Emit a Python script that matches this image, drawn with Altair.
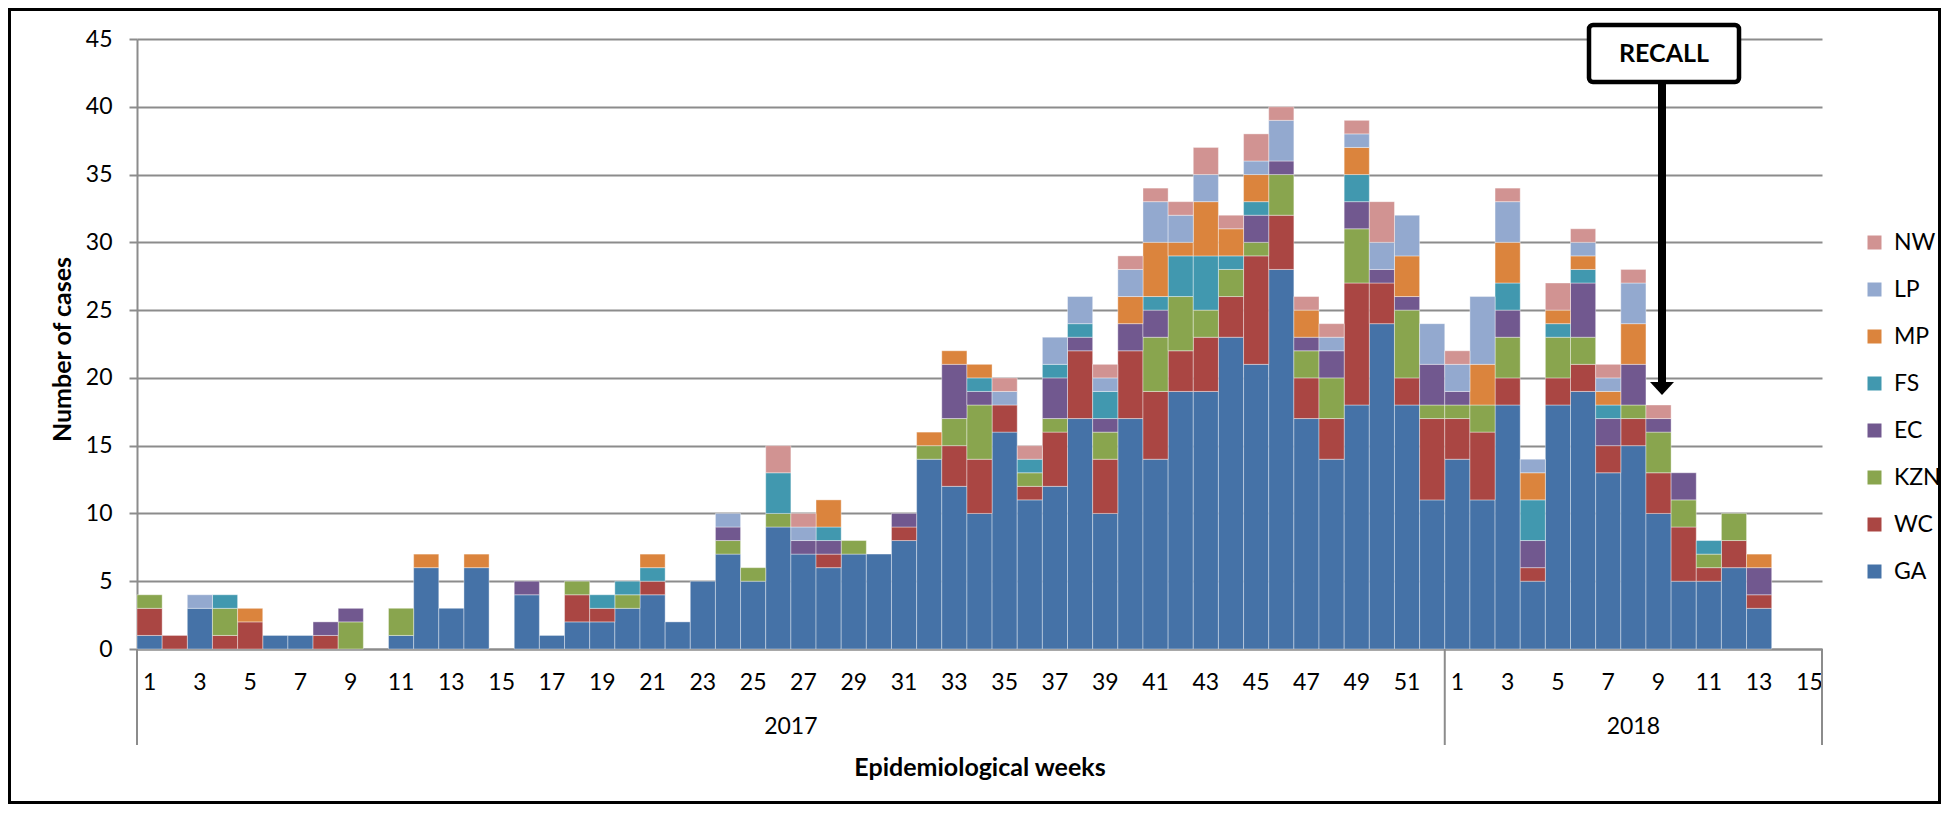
import altair as alt
import pandas as pd

# ---------------- data ----------------
weeks_2017 = list(range(1, 53))
weeks_2018 = list(range(1, 16))
keys = [f"2017-{w:02d}" for w in weeks_2017] + [f"2018-{w:02d}" for w in weeks_2018]
odd_keys = [k for k in keys if int(k[5:]) % 2 == 1]

stack_order = ["GA", "WC", "KZN", "EC", "FS", "MP", "LP", "NW"]      # bottom -> top
legend_order = ["NW", "LP", "MP", "FS", "EC", "KZN", "WC", "GA"]
legend_colors = ["#D19392", "#93A9CF", "#DB843D", "#4198AF", "#71588F", "#89A54E", "#AA4643", "#4572A7"]

GA = [1, 0, 3, 0, 0, 1, 1, 0, 0, 0, 1, 6, 3, 6, 0, 4, 1, 2, 2, 3, 4, 2, 5, 7, 5, 9, 7, 6, 7, 7,
      8, 14, 12, 10, 16, 11, 12, 17, 10, 17, 14, 19, 19, 23, 21, 28, 17, 14, 18, 24, 18, 11,
      14, 11, 18, 5, 18, 19, 13, 15, 10, 5, 5, 6, 3, 0, 0]
WC = [2, 1, 0, 1, 2, 0, 0, 1, 0, 0, 0, 0, 0, 0, 0, 0, 0, 2, 1, 0, 1, 0, 0, 0, 0, 0, 0, 1, 0, 0,
      1, 0, 3, 4, 2, 1, 4, 5, 4, 5, 5, 3, 4, 3, 8, 4, 3, 3, 9, 3, 2, 6,
      3, 5, 2, 1, 2, 2, 2, 2, 3, 4, 1, 2, 1, 0, 0]
KZN = [1, 0, 0, 2, 0, 0, 0, 0, 2, 0, 2, 0, 0, 0, 0, 0, 0, 1, 0, 1, 0, 0, 0, 1, 1, 1, 0, 0, 1, 0,
       0, 1, 2, 4, 0, 1, 1, 0, 2, 0, 4, 4, 2, 2, 1, 3, 2, 3, 4, 0, 5, 1,
       1, 2, 3, 0, 3, 2, 0, 1, 3, 2, 1, 2, 0, 0, 0]
EC = [0, 0, 0, 0, 0, 0, 0, 1, 1, 0, 0, 0, 0, 0, 0, 1, 0, 0, 0, 0, 0, 0, 0, 1, 0, 0, 1, 1, 0, 0,
      1, 0, 4, 1, 0, 0, 3, 1, 1, 2, 2, 0, 0, 0, 2, 1, 1, 2, 2, 1, 1, 3,
      1, 0, 2, 2, 0, 4, 2, 3, 1, 2, 0, 0, 2, 0, 0]
FS = [0, 0, 0, 1, 0, 0, 0, 0, 0, 0, 0, 0, 0, 0, 0, 0, 0, 0, 1, 1, 1, 0, 0, 0, 0, 3, 0, 1, 0, 0,
      0, 0, 0, 1, 0, 1, 1, 1, 2, 0, 1, 3, 4, 1, 1, 0, 0, 0, 2, 0, 0, 0,
      0, 0, 2, 3, 1, 1, 1, 0, 0, 0, 1, 0, 0, 0, 0]
MP = [0, 0, 0, 0, 1, 0, 0, 0, 0, 0, 0, 1, 0, 1, 0, 0, 0, 0, 0, 0, 1, 0, 0, 0, 0, 0, 0, 2, 0, 0,
      0, 1, 1, 1, 0, 0, 0, 0, 0, 2, 4, 1, 4, 2, 2, 0, 2, 0, 2, 0, 3, 0,
      0, 3, 3, 2, 1, 1, 1, 3, 0, 0, 0, 0, 1, 0, 0]
LP = [0, 0, 1, 0, 0, 0, 0, 0, 0, 0, 0, 0, 0, 0, 0, 0, 0, 0, 0, 0, 0, 0, 0, 1, 0, 0, 1, 0, 0, 0,
      0, 0, 0, 0, 1, 0, 2, 2, 1, 2, 3, 2, 2, 0, 1, 3, 0, 1, 1, 2, 3, 3,
      2, 5, 3, 1, 0, 1, 1, 3, 0, 0, 0, 0, 0, 0, 0]
NW = [0, 0, 0, 0, 0, 0, 0, 0, 0, 0, 0, 0, 0, 0, 0, 0, 0, 0, 0, 0, 0, 0, 0, 0, 0, 2, 1, 0, 0, 0,
      0, 0, 0, 0, 1, 1, 0, 0, 1, 1, 1, 1, 2, 1, 2, 1, 1, 1, 1, 3, 0, 0,
      1, 0, 1, 0, 2, 1, 1, 1, 1, 0, 0, 0, 0, 0, 0]

series = {"GA": GA, "WC": WC, "KZN": KZN, "EC": EC, "FS": FS, "MP": MP, "LP": LP, "NW": NW}

rows = []
for idx, prov in enumerate(stack_order):
    for k, v in zip(keys, series[prov]):
        if v > 0:
            rows.append({"key": k, "province": prov, "cases": v, "stackpos": idx})
df = pd.DataFrame(rows)

FONT = "Lato"
GRID = "#8c8c8c"

x_scale = alt.Scale(domain=keys, paddingInner=0, paddingOuter=0)

# ---------------- bars ----------------
bars = alt.Chart(df).mark_bar(stroke="white", strokeWidth=0.7, strokeOpacity=0.55).encode(
    x=alt.X(
        "key:N",
        scale=x_scale,
        axis=alt.Axis(
            title="Epidemiological weeks",
            titleFont=FONT, titleFontSize=25, titleFontWeight="bold", titleColor="black",
            titleY=118, titleBaseline="middle",
            values=odd_keys,
            labelExpr="toString(toNumber(slice(datum.value, 5)))",
            labelAngle=0, labelFont=FONT, labelFontSize=23, labelColor="black",
            labelBaseline="middle", labelPadding=33, labelOverlap=False, labelFlush=False,
            ticks=False, tickSize=0, domainColor=GRID, domainWidth=2, grid=False,
        ),
    ),
    y=alt.Y(
        "cases:Q",
        stack="zero",
        scale=alt.Scale(domain=[0, 45], nice=False),
        axis=alt.Axis(
            title="Number of cases",
            titleFont=FONT, titleFontSize=25, titleFontWeight="bold", titleColor="black",
            titleAngle=270, titleX=-75, titleY=310, titleAlign="center", titleBaseline="middle",
            values=list(range(0, 50, 5)),
            labelFont=FONT, labelFontSize=23, labelColor="black", labelPadding=17,
            tickSize=8, tickColor=GRID, tickWidth=2,
            domainColor=GRID, domainWidth=2,
            grid=True, gridColor=GRID, gridWidth=2,
        ),
    ),
    color=alt.Color(
        "province:N",
        scale=alt.Scale(domain=legend_order, range=legend_colors),
        legend=alt.Legend(
            title=None, orient="none", legendX=1726, legendY=192,
            symbolType="square", symbolSize=196, symbolStrokeWidth=0,
            labelFont=FONT, labelFontSize=23, labelColor="black", labelOffset=8,
            rowPadding=23, padding=0,
        ),
    ),
    order=alt.Order("stackpos:Q", sort="ascending"),
)

# ---------------- year group labels and separators ----------------
sep_left = alt.Chart(pd.DataFrame({"key": ["2017-01", "2018-01"]})).mark_rule(
    color=GRID, strokeWidth=2).encode(
    x=alt.X("key:N", bandPosition=0),
    y=alt.value(610), y2=alt.value(706),
)
sep_right = alt.Chart(pd.DataFrame({"key": ["2018-15"]})).mark_rule(
    color=GRID, strokeWidth=2).encode(
    x=alt.X("key:N", bandPosition=1),
    y=alt.value(610), y2=alt.value(706),
)
year17 = alt.Chart(pd.DataFrame({"key": ["2017-27"], "year": ["2017"]})).mark_text(
    font=FONT, fontSize=23, color="black", baseline="middle", align="center").encode(
    x=alt.X("key:N", bandPosition=0), y=alt.value(688), text="year:N",
)
year18 = alt.Chart(pd.DataFrame({"key": ["2018-08"], "year": ["2018"]})).mark_text(
    font=FONT, fontSize=23, color="black", baseline="middle", align="center").encode(
    x=alt.X("key:N", bandPosition=0.5), y=alt.value(688), text="year:N",
)

# ---------------- RECALL annotation ----------------
ann = pd.DataFrame({"label": ["RECALL"]})
shaft = alt.Chart(ann).mark_rule(color="black", strokeWidth=8).encode(
    x=alt.value(1525), y=alt.value(43), y2=alt.value(344),
)
head = alt.Chart(ann).mark_point(
    shape="M-1,-0.54L1,-0.54L0,0.54Z", filled=True, color="black", opacity=1, size=576
).encode(x=alt.value(1525), y=alt.value(349.5))
box = alt.Chart(ann).mark_rect(
    fill="white", stroke="black", strokeWidth=4.5, cornerRadius=4
).encode(x=alt.value(1452), x2=alt.value(1602), y=alt.value(-14), y2=alt.value(43))
box_text = alt.Chart(ann).mark_text(
    font=FONT, fontSize=25, fontWeight="bold", color="black", align="center", baseline="middle"
).encode(x=alt.value(1527), y=alt.value(15), text="label:N")

# ---------------- outer frame ----------------
frame = alt.Chart(ann).mark_rect(
    fill="white", fillOpacity=0, stroke="black", strokeWidth=3
).encode(x=alt.value(-127.5), x2=alt.value(1802.5), y=alt.value(-29.5), y2=alt.value(763.5))

chart = alt.layer(
    bars, sep_left, sep_right, year17, year18, shaft, head, box, box_text, frame
).properties(
    width=1685, height=610,
    padding={"left": 129, "top": 31, "right": 119, "bottom": 155},
    autosize=alt.AutoSizeParams(type="none"),
    background="white",
).configure_view(stroke=None)

chart.save("out.html", embed_options={"renderer": "svg", "actions": False})
